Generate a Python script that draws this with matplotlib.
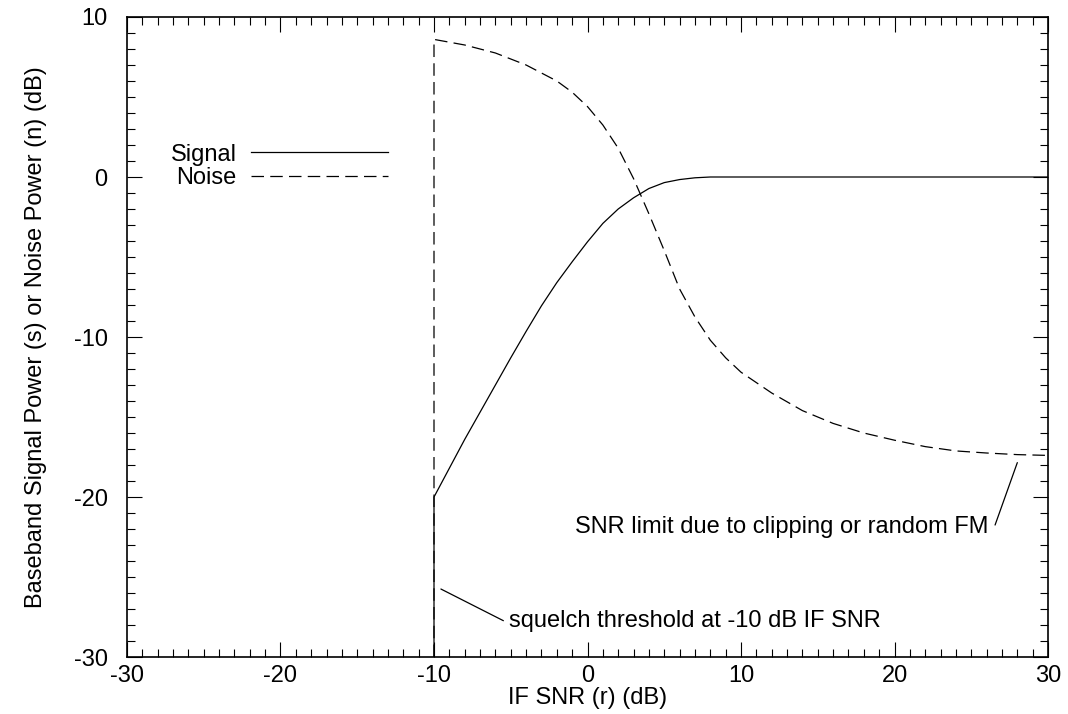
import matplotlib
matplotlib.use("Agg")
import matplotlib.pyplot as plt
from matplotlib.lines import Line2D
from matplotlib.ticker import MultipleLocator

plt.rcParams['font.family'] = ['Liberation Sans', 'DejaVu Sans']
plt.rcParams['axes.unicode_minus'] = False

# signal curve (squelched below -10 dB IF SNR)
signal_x = [-10, -10, -9, -8, -7, -6, -5, -4, -3, -2, -1, 0, 1, 2, 3, 4, 5, 6, 7, 8, 30]
signal_y = [-30, -20.0, -18.2, -16.4, -14.7, -13.0, -11.3, -9.65, -8.05, -6.6, -5.3, -4.05,
            -2.9, -2.0, -1.3, -0.72, -0.35, -0.16, -0.05, 0.0, 0.0]

# noise curve
noise_x = [-10, -10, -8, -6, -4, -2, -1, 0, 1, 2, 3, 4, 5, 6, 7, 8, 9, 10,
           12, 14, 16, 18, 20, 22, 24, 26, 28, 30]
noise_y = [-30, 8.6, 8.25, 7.75, 7.0, 6.0, 5.3, 4.4, 3.25, 1.8, -0.1, -2.3, -4.6, -7.0,
           -8.75, -10.2, -11.3, -12.2, -13.5, -14.6, -15.4, -16.0, -16.45, -16.85,
           -17.12, -17.25, -17.35, -17.4]

# annotations: text, leader line ends, text anchor
squelch_note = "squelch threshold at -10 dB IF SNR"
squelch_line = ((-9.55, -25.75), (-5.48, -27.73))
squelch_pos = (-5.1, -27.75)
limit_note = "SNR limit due to clipping or random FM"
limit_line = ((28.0, -17.85), (26.55, -21.75))
limit_pos = (26.1, -21.85)

fs = 17
dash = (10, 5)

fig = plt.figure(figsize=(10.68, 7.14), dpi=100)
ax = fig.add_axes([0.1189, 0.0798, 0.8624, 0.8964])

ax.plot(signal_x, signal_y, color='black', lw=0.9, label='Signal')
ax.plot(noise_x, noise_y, color='black', lw=0.9, dashes=dash, label='Noise')

ax.set_xlim(-30, 30)
ax.set_ylim(-30, 10)
ax.xaxis.set_major_locator(MultipleLocator(10))
ax.xaxis.set_minor_locator(MultipleLocator(1))
ax.yaxis.set_major_locator(MultipleLocator(10))
ax.yaxis.set_minor_locator(MultipleLocator(1))
ax.tick_params(which='both', direction='in', top=True, right=True, width=0.8, labelsize=fs)
ax.tick_params(which='major', length=11)
ax.tick_params(which='minor', length=5.5)
ax.tick_params(axis='x', which='major', pad=6)
ax.tick_params(axis='y', which='major', pad=14)
for s in ax.spines.values():
    s.set_linewidth(1.2)

ax.set_xlabel("IF SNR (r) (dB)", fontsize=fs, labelpad=0)
ax.set_ylabel("Baseband Signal Power (s) or Noise Power (n) (dB)", fontsize=fs, labelpad=19)

for note, (p0, p1), pos, ha in [(squelch_note, squelch_line, squelch_pos, 'left'),
                                (limit_note, limit_line, limit_pos, 'right')]:
    ax.annotate('', xy=p0, xytext=p1,
                arrowprops=dict(arrowstyle='-', color='black', lw=0.9, shrinkA=0, shrinkB=0))
    ax.text(pos[0], pos[1], note, fontsize=fs, ha=ha, va='center')

handles = [Line2D([], [], color='black', lw=0.9),
           Line2D([], [], color='black', lw=0.9, dashes=dash)]
ax.legend(handles, ['Signal', 'Noise'], loc='center right', bbox_to_anchor=(-13.0, 0.66),
          bbox_transform=ax.transData, frameon=False, markerfirst=False, fontsize=fs,
          handlelength=5.8, handletextpad=0.6, labelspacing=0.06, borderpad=0,
          borderaxespad=0)

fig.savefig("out.png", dpi=100)
